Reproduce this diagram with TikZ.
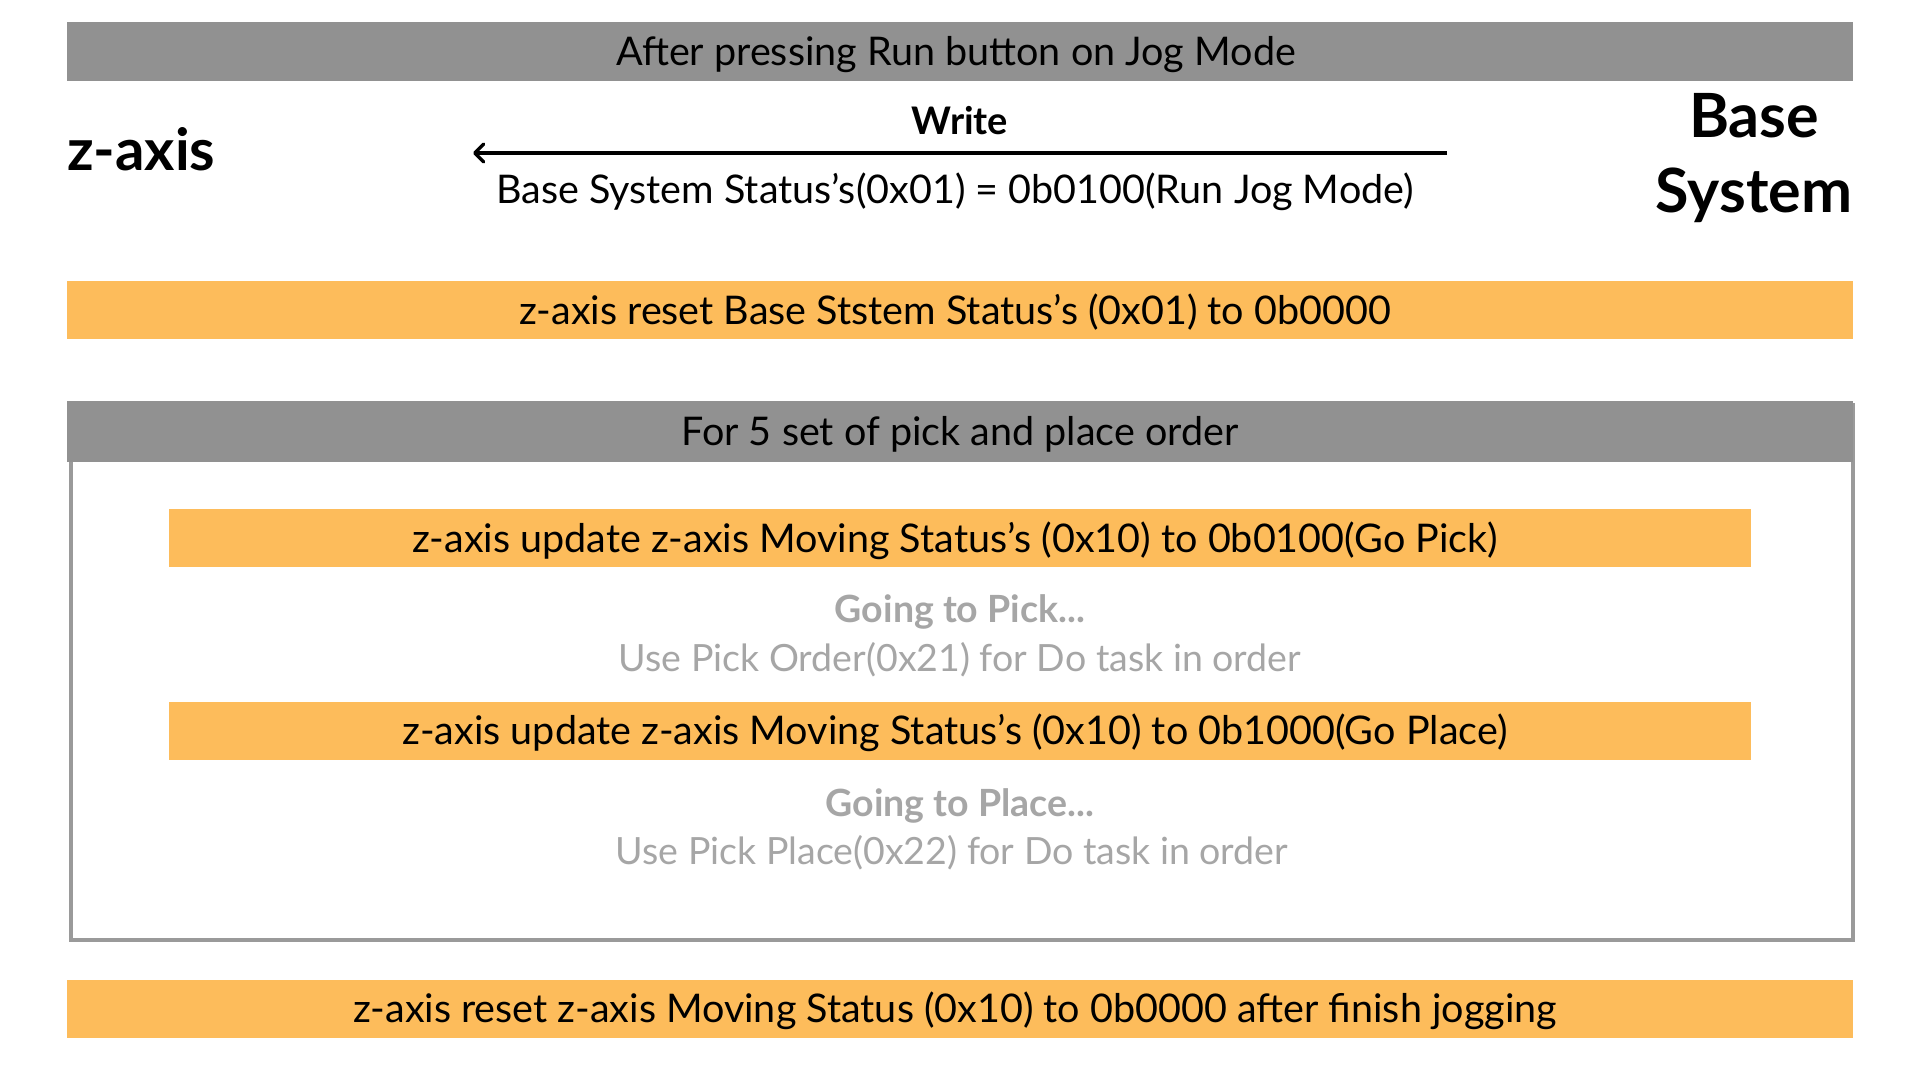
\documentclass[tikz,border=0pt]{standalone}
\usepackage{fontspec}
\setmainfont{Lato}
\usetikzlibrary{arrows.meta}
\definecolor{barGray}{HTML}{919191}
\definecolor{barOrange}{HTML}{FDBC5B}
\definecolor{txtGray}{HTML}{A6A6A6}
\definecolor{frameGray}{HTML}{9A9A9A}
\begin{document}
\begin{tikzpicture}[x=1pt,y=-1pt,
  bar/.style={rectangle, inner sep=0pt, minimum height=58pt},
  graybar/.style={bar, fill=barGray},
  orangebar/.style={bar, fill=barOrange},
  bartext/.style={inner sep=0pt, text=black, font=\fontsize{39.5}{47}\selectfont,
    text height=28.5pt, text depth=0pt},
  big/.style={font=\fontsize{61}{75}\selectfont\bfseries, align=center, inner sep=0pt},
  body/.style={font=\fontsize{39.5}{47}\selectfont, inner sep=0pt},
  hint/.style={inner sep=0pt, text=txtGray, font=\fontsize{37.5}{45}\selectfont},
  hintbold/.style={hint, font=\fontsize{37.5}{45}\selectfont\bfseries},
  arrowline/.style={line width=3.4pt, -{Straight Barb[length=9pt,width=18pt,round]}},
]
\useasboundingbox[fill=white] (0,0) rectangle (1920,1080);

% top header
\node[graybar, minimum width=1786pt, minimum height=59pt] (top) at (960,51.5) {};
\node[bartext] (toptxt) at ([xshift=-4pt]top.center) {After pressing Run button on Jog Mode};

% actors
\node[big, font=\fontsize{58}{72}\selectfont\bfseries, anchor=west] (zaxis) at (67,149) {z-axis};
\node[big] (base) at (1754,158) {Base\\System};

% message
\node[inner sep=0pt, font=\fontsize{38}{45}\selectfont\bfseries] (write) at (960,121) {Write};
\coordinate (arrS) at (1447,153);
\coordinate (arrE) at (473,153);
\draw[arrowline] (arrS) -- (arrE);
\node[body] (lbl) at (955,192) {Base System Status’s(0x01) = 0b0100(Run Jog Mode)};

% reset base status
\node[orangebar, minimum width=1786pt] (reset1) at (960,310) {};
\node[bartext] (reset1txt) at ([xshift=-5pt]reset1.center)
  {z-axis reset Base Ststem Status’s (0x01) to 0b0000};

% loop frame
\node[draw=frameGray, line width=4pt, minimum width=1782pt, minimum height=535pt,
  inner sep=0pt, anchor=north west] (loop) at (69,403) {};
\node[graybar, minimum width=1786pt, minimum height=61pt] (hdr) at (960,431.5) {};
\node[bartext] (hdrtxt) at (hdr.center) {For 5 set of pick and place order};

\node[orangebar, minimum width=1582pt] (pick) at (960,538) {};
\node[bartext] (picktxt) at ([xshift=-5pt]pick.center)
  {z-axis update z-axis Moving Status’s (0x10) to 0b0100(Go Pick)};
\node[hintbold] (gopick) at (960,612) {Going to Pick...};
\node[hint] (usepick) at (960,660) {Use Pick Order(0x21) for Do task in order};

\node[orangebar, minimum width=1582pt] (place) at (960,730.5) {};
\node[bartext] (placetxt) at ([xshift=-5pt]place.center)
  {z-axis update z-axis Moving Status’s (0x10) to 0b1000(Go Place)};
\node[hintbold] (goplace) at (960,806) {Going to Place...};
\node[hint] (useplace) at (952,853) {Use Pick Place(0x22) for Do task in order};

% final reset
\node[orangebar, minimum width=1786pt] (reset2) at (960,1008.5) {};
\node[bartext] (reset2txt) at ([xshift=-5pt]reset2.center)
  {z-axis reset z-axis Moving Status (0x10) to 0b0000 after finish jogging};
\end{tikzpicture}
\end{document}
